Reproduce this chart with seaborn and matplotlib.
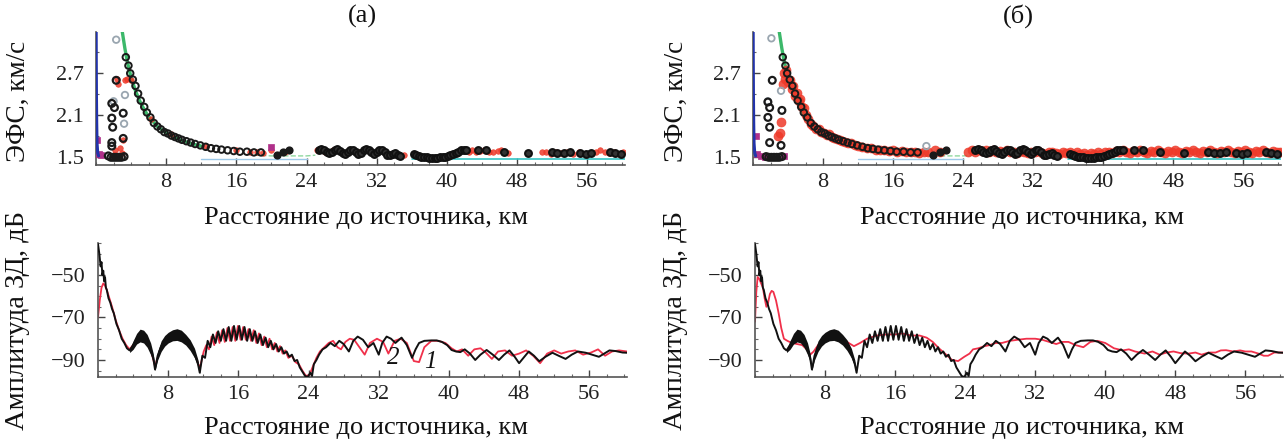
import numpy as np
import matplotlib
matplotlib.use("Agg")
import matplotlib.pyplot as plt
import seaborn as sns
from matplotlib.ticker import FixedLocator, MultipleLocator

sns.set_theme(style="white")
plt.rcParams['font.family'] = ['Liberation Serif', 'DejaVu Serif']
plt.rcParams['axes.unicode_minus'] = True

# ---------------- data: top panels (ЭФС, км/с) ----------------
blue_x = [0.02, 0.03, 0.05, 0.08, 0.12, 0.2, 0.3]
blue_v = [3.29, 2.9, 2.4, 2.0, 1.7, 1.56, 1.52]

green_x = [3.0, 3.3, 3.6, 4.0, 4.5, 5.0, 5.5, 6.0, 7.0, 8.0, 9.0, 10.0, 11.0, 12.0]
green_v = [3.29, 3.05, 2.85, 2.64, 2.45, 2.3, 2.18, 2.08, 1.94, 1.85, 1.78, 1.73, 1.69, 1.66]
green_tail_x = [18.0, 20.0, 22.0, 24.0, 25.0]
green_tail_v = [1.53, 1.52, 1.52, 1.52, 1.53]

cyan_x = [12.0, 24.0, 36.0, 60.3]
cyan_v = [1.47, 1.47, 1.475, 1.475]

curve_x = [3.4, 3.7, 3.9, 4.2, 4.5, 4.8, 5.1, 5.5, 5.8, 6.2, 6.6, 7.0, 7.4, 7.8, 8.2, 8.6, 9.0,
           9.4, 9.8, 10.3, 10.8, 11.3, 11.9, 12.5, 13.1, 13.7, 14.3, 15.0, 15.7, 16.4, 17.2, 18.0, 18.8]
curve_v = [2.93, 2.81, 2.70, 2.61, 2.52, 2.41, 2.31, 2.22, 2.14, 2.07, 1.99, 1.94, 1.9, 1.86, 1.84, 1.81, 1.79,
           1.77, 1.75, 1.73, 1.71, 1.69, 1.67, 1.65, 1.63, 1.62, 1.61, 1.6, 1.59, 1.58, 1.58, 1.57, 1.57]

bk_a_col_x = [2.3, 1.8, 2.1, 1.8, 1.9, 1.8, 1.8, 3.1, 3.1, 1.4, 1.7, 2.0, 2.3, 2.6, 2.9, 3.2]
bk_a_col_v = [2.60, 2.27, 2.21, 2.06, 1.93, 1.71, 1.66, 2.13, 1.77, 1.52, 1.5, 1.5, 1.5, 1.5, 1.5, 1.51]
bk_b_col_x = [2.2, 1.7, 1.9, 1.7, 1.9, 1.9, 3.3, 3.2, 1.5, 1.8, 2.1, 2.4, 2.7, 3.0, 3.3]
bk_b_col_v = [2.6, 2.29, 2.21, 2.07, 1.93, 1.71, 2.17, 1.67, 1.51, 1.5, 1.5, 1.5, 1.5, 1.5, 1.51]

bk_mid_x = [20.6, 21.3, 22.0]
bk_mid_v = [1.53, 1.58, 1.6]

bk_far_x = [25.4, 25.7, 26.0, 26.3, 26.6, 26.9, 27.2, 27.5, 27.8, 28.1, 28.4, 28.7, 29.0, 29.3, 29.6, 29.9,
            30.2, 30.5, 30.8, 31.1, 31.4, 31.7, 32.0, 32.3, 32.6, 32.9, 33.2, 33.5, 33.8, 34.1, 34.4, 34.7,
            36.2, 36.5, 36.8, 37.1, 37.4, 37.7, 38.0, 38.3, 38.6, 38.9, 39.2, 39.5, 39.8, 40.1, 40.4, 40.7,
            41.0, 41.3, 41.6, 41.9, 42.2,
            43.5, 44.5, 46.5, 49.2, 52.0, 52.6, 53.3, 54.0, 55.2, 55.8, 56.4, 58.6, 59.2, 59.8]
bk_far_v = [1.61, 1.62, 1.6, 1.57, 1.56, 1.58, 1.61, 1.62, 1.59, 1.56, 1.55, 1.57, 1.6, 1.61, 1.58, 1.55,
            1.56, 1.6, 1.62, 1.6, 1.57, 1.55, 1.57, 1.6, 1.6, 1.57, 1.54, 1.53, 1.55, 1.56, 1.53, 1.52,
            1.55, 1.53, 1.52, 1.51, 1.5, 1.5, 1.49, 1.49, 1.49, 1.49, 1.5, 1.5, 1.51, 1.52, 1.53, 1.55,
            1.56, 1.58, 1.6, 1.61, 1.61,
            1.6, 1.61, 1.58, 1.56, 1.57, 1.56, 1.56, 1.57, 1.56, 1.55, 1.56, 1.57, 1.56, 1.55]

red_a_x = [2.4, 2.5, 3.3, 3.1, 2.7, 2.2, 3.0, 2.0, 2.5, 3.5, 4.0, 6.3, 8.5, 12.5, 16.0, 18.3,
           17.6, 19.0, 19.9, 21.6,
           25.2, 26.1, 27.0, 28.6, 30.0, 31.2, 33.0, 34.3, 35.1, 42.5, 42.9, 43.3, 43.8, 44.2, 44.8,
           45.3, 45.8, 46.2, 47.0, 50.8, 51.3, 51.9, 52.4, 53.0, 53.7, 54.4, 55.0, 56.0, 57.0, 57.5,
           58.0, 58.5, 59.0, 59.6, 60.1]
red_a_v = [2.62, 2.55, 2.6, 1.75, 1.63, 1.6, 1.56, 1.53, 1.51, 2.62, 2.6, 2.05, 1.83, 1.66, 1.6, 1.58,
           1.58, 1.56, 1.6, 1.57,
           1.6, 1.58, 1.6, 1.58, 1.57, 1.6, 1.56, 1.55, 1.54, 1.58, 1.6, 1.57, 1.59, 1.61, 1.58,
           1.57, 1.59, 1.6, 1.56, 1.57, 1.58, 1.55, 1.57, 1.56, 1.58, 1.55, 1.57, 1.55, 1.57, 1.6,
           1.58, 1.56, 1.58, 1.55, 1.57]

red_b_x = [3.4, 3.5, 3.6, 3.8, 4.0, 4.2, 4.4, 4.6, 4.8, 5.0,
           5.2, 5.4, 5.6, 5.8, 6.0, 6.3, 6.6, 6.9, 7.2, 7.5,
           7.8, 8.1, 8.4, 8.7, 9.0, 9.3, 9.6, 9.9, 10.2, 10.5,
           10.8, 11.2, 11.6, 12.0, 12.5, 13.0, 13.5, 14.0, 14.5, 15.0,
           15.5, 16.0, 16.5, 17.0, 17.5, 18.0, 18.5, 19.0, 19.5, 20.0,
           20.8, 21.4, 24.6, 25.0, 25.4, 25.8, 26.2, 26.6, 27.0, 27.4,
           27.8, 28.2, 28.6, 29.0, 29.4, 29.8, 30.2, 30.6, 31.0, 31.4,
           31.8, 32.2, 32.6, 33.0, 33.4, 33.8, 34.2, 34.6, 35.0, 35.4,
           35.8, 36.2, 36.6, 37.0, 37.4, 37.8, 38.2, 38.6, 39.0, 39.4,
           39.8, 40.2, 40.6, 41.0, 41.4, 41.8, 42.2, 42.6, 43.0, 43.4,
           43.8, 44.2, 44.6, 45.0, 45.4, 45.8, 46.2, 46.6, 47.0, 47.4,
           47.8, 48.2, 48.6, 49.0, 49.4, 49.8, 50.2, 50.6, 51.0, 51.4,
           51.8, 52.2, 52.6, 53.0, 53.4, 53.8, 54.2, 54.6, 55.0, 55.4,
           55.8, 56.2, 56.6, 57.0, 57.4, 57.8, 58.2, 58.6, 59.0, 59.4,
           59.8, 60.2, 3.2, 3.1, 2.9]
red_b_v = [2.55, 2.7, 2.62, 2.75, 2.58, 2.6, 2.48, 2.52, 2.38, 2.42,
           2.3, 2.33, 2.22, 2.2, 2.1, 2.05, 1.98, 1.95, 1.9, 1.9,
           1.86, 1.85, 1.82, 1.83, 1.79, 1.78, 1.76, 1.75, 1.73, 1.72,
           1.7, 1.7, 1.68, 1.66, 1.65, 1.63, 1.63, 1.61, 1.61, 1.6,
           1.59, 1.6, 1.58, 1.59, 1.57, 1.58, 1.57, 1.56, 1.58, 1.57,
           1.6, 1.57, 1.57, 1.6, 1.58, 1.61, 1.59, 1.6, 1.58, 1.6,
           1.57, 1.59, 1.58, 1.6, 1.57, 1.58, 1.56, 1.59, 1.58, 1.56,
           1.58, 1.57, 1.59, 1.56, 1.55, 1.57, 1.58, 1.56, 1.55, 1.57,
           1.56, 1.58, 1.55, 1.57, 1.55, 1.56, 1.54, 1.56, 1.55, 1.57,
           1.55, 1.57, 1.58, 1.56, 1.59, 1.57, 1.6, 1.58, 1.56, 1.59,
           1.57, 1.6, 1.58, 1.56, 1.59, 1.57, 1.6, 1.58, 1.56, 1.59,
           1.57, 1.6, 1.58, 1.56, 1.59, 1.57, 1.6, 1.58, 1.56, 1.59,
           1.57, 1.6, 1.58, 1.56, 1.59, 1.57, 1.6, 1.58, 1.56, 1.59,
           1.57, 1.6, 1.58, 1.56, 1.59, 1.57, 1.6, 1.58, 1.56, 1.59,
           1.57, 1.58, 2.0, 1.85, 1.8]

pale_a_x = [2.3, 3.3, 3.2, 2.0]
pale_a_v = [3.18, 2.39, 1.98, 2.3]
pale_b_x = [2.1, 3.2, 1.7, 19.8]
pale_b_v = [3.2, 2.45, 2.3, 1.66]
mag_a_x = [0.1, 0.3, 0.6, 20.0]
mag_a_v = [1.75, 1.55, 1.53, 1.65]
mag_b_x = [0.3, 0.5, 0.9, 1.4, 3.5]
mag_b_v = [1.8, 1.55, 1.52, 1.5, 1.52]

# ---------------- data: bottom panels (Амплитуда ЗД, дБ) ----------------
bk_near_x = [0.0, 0.15, 0.3, 0.4, 0.5, 0.6, 0.7, 0.8, 0.9, 1.0, 1.2, 1.4, 1.6, 1.8, 2.1, 2.4, 2.7, 3.0, 3.3, 3.6]
bk_near_y = [-35.5, -40, -46, -44, -50, -48, -53, -51, -56, -57, -61, -63, -66, -68, -73, -76, -80, -82, -84.5, -85.5]
bk_lobe_x = [4.0, 4.4, 4.8, 5.2, 5.6, 6.0, 6.3, 6.5, 6.8, 7.2, 7.6, 8.0, 8.5, 9.0, 9.5, 10.0, 10.5, 11.0, 11.4, 11.6]
bk_lobe_y = [-83, -80, -78.5, -79, -81, -85, -89, -94.5, -88, -83.5, -81, -79.5, -78.5, -78, -79, -80.5, -83, -87, -92, -96]
band_x = [3.6, 4.0, 4.4, 4.8, 5.2, 5.6, 6.0, 6.3, 6.5, 6.8, 7.2, 7.6, 8.0, 8.5, 9.0, 9.5, 10.0, 10.5, 11.0, 11.4, 11.6]
band_hi = [-85, -81, -77.5, -75.5, -76, -78, -82, -87, -93, -86, -81, -78.5, -77, -75.8, -75.3, -76, -78, -80.5, -84.5, -90, -95]
band_lo = [-86.5, -85, -82.5, -81.5, -82, -84, -87.5, -91, -95, -90, -86, -83.5, -82, -81, -80.8, -81.5, -83, -85.5, -89, -93, -96.5]
bk_teeth_x = [11.9, 12.2, 12.5, 12.8, 13.1, 13.4, 13.7, 14.0, 14.3, 14.6, 14.9, 15.2, 15.5, 15.8, 16.1, 16.4, 16.7,
              17.0, 17.3, 17.6, 17.9, 18.2, 18.5, 18.8, 19.1, 19.4, 19.7, 20.0, 20.3, 20.6, 20.9, 21.2, 21.5]
bk_teeth_y = [-88, -89, -81, -84, -78, -82, -76.5, -81, -75.5, -81, -74.5, -81, -74, -80.5, -74, -80.5, -74.5,
              -81, -75.5, -81, -76.5, -82, -78, -83, -79.5, -84, -81, -85, -82.5, -86, -84, -87, -86]
bk_dip_x = [21.8, 22.1, 22.4, 22.7, 23.0, 23.3, 23.6, 23.9, 24.2, 24.4, 24.6, 24.9, 25.2]
bk_dip_y = [-88.5, -87.5, -90.5, -90, -93.5, -95.5, -97.5, -98, -96, -97.5, -92, -90, -87.5]
bk_tail_x = [25.6, 26.0, 26.5, 27.0, 27.5, 28.0, 28.6, 29.1, 29.6, 30.2,
             30.8, 31.4, 32.0, 32.4, 32.9, 33.4, 33.9, 34.6, 35.2, 35.8,
             36.2, 36.6, 37.2, 38.0, 38.6, 39.2, 39.8, 40.3, 40.8, 41.3,
             41.8, 42.4, 43.0, 43.6, 44.3, 45.0, 45.7, 46.3, 46.9, 47.5,
             48.0, 48.6, 49.1, 49.7, 50.3, 51.0, 51.8, 52.5, 53.3, 54.0,
             54.7, 55.6, 56.3, 57.1, 57.7, 58.3, 59.0, 59.8, 60.3]
bk_tail_y = [-85, -84, -82, -83.5, -81, -82.5, -86, -81, -79, -80.5,
             -84, -82, -87.5, -82, -79, -80, -82, -79.5, -83, -89,
             -85, -82, -81, -80.8, -80.8, -81.5, -83, -85.3, -86, -86.3,
             -85, -87, -90, -87.5, -85.3, -87.5, -90, -87.5, -85.5, -88.5,
             -91.5, -88.5, -86, -88, -90.6, -88.5, -86.6, -88, -89.5, -87.5,
             -86, -86.6, -87.5, -88.5, -87, -85.5, -85.8, -86.5, -86.6]

rd_a_x = [0.0, 0.2, 0.4, 0.6, 0.8, 1.0, 1.3, 1.6, 2.0, 2.4, 2.8, 3.2, 3.6,
          4.2, 4.8, 5.4, 6.0, 6.5, 7.0, 7.5, 8.2, 9.0, 9.8, 10.6, 11.2, 11.6,
          12.05, 12.35, 12.65, 12.95, 13.25, 13.55, 13.85, 14.15, 14.45, 14.75,
          15.05, 15.35, 15.65, 15.95, 16.25, 16.55, 16.85, 17.15, 17.45, 17.75,
          18.05, 18.35, 18.65, 18.95, 19.25, 19.55, 19.85, 20.15, 20.45, 20.75,
          21.05, 21.35, 21.7, 22.1, 22.5, 22.9, 23.3, 23.7, 24.1, 24.5, 24.9, 25.3,
          25.8, 26.3, 26.8, 27.3, 27.7, 28.2, 28.7, 29.2, 29.8, 30.4,
          31.0, 31.8, 32.5, 33.1, 33.8, 34.5, 35.2, 36.0, 36.6, 37.2,
          38.0, 38.8, 39.6, 40.3, 40.9, 41.5, 42.2, 42.9, 43.6, 44.2,
          44.9, 45.6, 46.4, 47.2, 48.0, 48.8, 49.6, 50.4, 51.2, 52.0,
          52.8, 53.6, 54.4, 55.3, 56.2, 57.0, 57.8, 58.6, 59.4, 60.3]
rd_a_y = [-70, -62, -56, -54, -55, -57, -61, -65, -71, -76, -80, -83, -85,
          -82, -79, -80, -85, -93, -86, -82, -80, -79, -80, -84, -89, -94,
          -86, -83, -85, -79, -83, -77, -82, -76, -81.5, -75,
          -81, -74.5, -81, -74, -80.5, -74.5, -80.5, -75.5, -81, -76,
          -82, -77.5, -83, -79, -84, -80, -85, -82, -86, -83.5,
          -87, -85.5, -89, -88, -91, -92, -95, -97.5, -97, -93, -89, -86,
          -84, -82, -81, -84, -85, -81.5, -80, -80.5, -84, -87.5,
          -82, -80, -81.5, -87, -81, -80, -82, -90.5, -91, -84,
          -81, -81, -82, -84.5, -86, -85, -88, -85, -84.5, -86.5,
          -89.5, -86, -85.5, -88, -87, -85.5, -88, -91.5, -87, -85.5,
          -87, -86, -85.5, -87.5, -86.5, -85, -88, -86, -85.5, -86]

rd_b_x = [0.0, 0.15, 0.3, 0.5, 0.7, 0.9, 1.1, 1.3, 1.5, 1.7,
          1.9, 2.1, 2.4, 2.7, 3.0, 3.3, 3.7, 4.2, 4.8, 5.4,
          5.9, 6.3, 6.7, 7.2, 7.8, 8.5, 9.2, 10.0, 10.7, 11.3,
          12.0, 12.8, 13.9, 15.0, 16.0, 16.8, 17.8, 18.8, 19.6, 20.3,
          21.0, 21.7, 22.5, 23.2, 23.9, 24.5, 24.9, 25.5, 26.2, 26.8,
          27.5, 28.2, 29.1, 30.0, 31.0, 32.0, 32.8, 33.6, 34.4, 35.1,
          35.8, 36.6, 37.5, 38.3, 39.1, 40.0, 41.0, 42.0, 42.7, 43.4,
          44.5, 45.4, 46.2, 47.0, 47.8, 48.6, 49.5, 50.3, 51.0, 51.8,
          52.6, 53.2, 53.8, 54.6, 55.4, 56.0, 56.7, 57.5, 58.1, 58.6,
          59.3, 60.3]
rd_b_y = [-72, -58, -51, -52, -54, -56, -61, -65, -63, -59,
          -57.5, -58, -62, -68, -75, -80, -81, -82, -82.5, -83,
          -85, -87.5, -86, -83, -80.5, -79.5, -79, -80, -82, -83.5,
          -82, -80, -78.5, -78, -78, -77.5, -78.5, -78.5, -79.5, -81.5,
          -84.5, -87, -90, -90.5, -88.5, -87, -85, -84.5, -83.5, -83,
          -82, -82, -81, -80.5, -80, -80, -80.5, -81.5, -82.5, -81.5,
          -81.5, -83, -84, -81.5, -81, -82, -84.5, -85.5, -85, -86,
          -87, -86, -87.5, -86.5, -86, -86.8, -87, -86.5, -87.5, -86.5,
          -86.5, -85.5, -85.4, -86, -85.5, -86, -86, -87, -88, -88,
          -86.5, -86.5]

curve_labels = ["2", "1"]
curve_label_x = [33.7, 37.9]
curve_label_y = [-89.0, -90.8]

x_ticks = [8, 16, 24, 32, 40, 48, 56]
v_ticks = [1.5, 2.1, 2.7]
a_ticks = [-90, -70, -50]
panel_titles = ["(а)", "(б)"]
xlabel = "Расстояние до источника, км"
ylabel_top = "ЭФС, км/с"
ylabel_bot = "Амплитуда ЗД, дБ"

# ---------------- layout ----------------
W, H = 1284, 441
fig = plt.figure(figsize=(W / 100, H / 100), dpi=100)


def rect(x0, y0, x1, y1):
    return [x0 / W, 1 - y1 / H, (x1 - x0) / W, (y1 - y0) / H]


XMAX = 60.3
TICK_FS = 16
LAB_FS = 19

ax_tl = fig.add_axes(rect(96, 32, 625, 165))
ax_bl = fig.add_axes(rect(98, 243, 627, 377))
ax_tr = fig.add_axes(rect(753, 32, 1281, 165))
ax_br = fig.add_axes(rect(755, 243, 1283, 377))

RED = "#ee3a2a"


def style_axes(ax, yticks, ylim, yminor):
    ax.set_xlim(0, XMAX)
    ax.set_ylim(*ylim)
    ax.set_facecolor("white")
    for s in ["top", "right"]:
        ax.spines[s].set_visible(False)
    for s in ["left", "bottom"]:
        ax.spines[s].set_visible(True)
        ax.spines[s].set_color("#555555")
        ax.spines[s].set_linewidth(1.2)
    ax.xaxis.set_major_locator(FixedLocator(x_ticks))
    ax.xaxis.set_minor_locator(MultipleLocator(2))
    ax.yaxis.set_major_locator(FixedLocator(yticks))
    ax.yaxis.set_minor_locator(MultipleLocator(yminor))
    ax.tick_params(axis="both", which="major", direction="in", length=5, width=1.0,
                   color="#444444", labelsize=TICK_FS, labelcolor="#222222",
                   bottom=True, left=True)
    ax.tick_params(axis="both", which="minor", direction="in", length=2.5, width=0.8,
                   color="#666666", bottom=True, left=True)
    ax.tick_params(axis="x", which="major", pad=6)
    ax.tick_params(axis="y", which="major", pad=9)
    ax.set_xlabel("")
    ax.set_ylabel("")


def line(ax, x, y, color, lw=1.3, ls="-", alpha=1.0, z=2):
    sns.lineplot(x=x, y=y, ax=ax, color=color, lw=lw, linestyle=ls, alpha=alpha,
                 sort=False, estimator=None, zorder=z, legend=False)


def dots(ax, x, y, ec, fc="none", s=24, lw=1.4, marker="o", alpha=1.0, z=3):
    sns.scatterplot(x=x, y=y, ax=ax, marker=marker, s=s, color=ec, facecolor=fc,
                    edgecolor=ec, linewidth=lw, alpha=alpha, zorder=z, legend=False)


def top_panel(ax, red_x, red_v, red_s, bk_col_x, bk_col_v, pale_x, pale_v, mag_x, mag_v):
    line(ax, cyan_x[:2], cyan_v[:2], "#9cc8e8", lw=1.0, z=1)
    line(ax, cyan_x[2:], cyan_v[2:], "#35c4c4", lw=1.2, z=1)
    line(ax, blue_x, blue_v, "#2233aa", lw=2.2, z=4)
    line(ax, green_x, green_v, "#3cb86a", lw=2.4, z=2)
    line(ax, green_tail_x, green_tail_v, "#8fd89f", lw=1.0, ls="--", z=1)
    dots(ax, red_x, red_v, RED, fc=RED, s=red_s, lw=0.5, marker="o", alpha=0.85, z=3)
    dots(ax, pale_x, pale_v, "#9aa6b0", s=22, lw=1.3, z=3)
    dots(ax, mag_x, mag_v, "#b0308a", fc="#b0308a", s=14, lw=0.5, marker="s", z=3)
    dots(ax, curve_x, curve_v, "#1a1a1a", s=22, lw=1.4, z=4)
    dots(ax, bk_col_x, bk_col_v, "#1a1a1a", s=24, lw=1.6, z=4)
    dots(ax, bk_mid_x, bk_mid_v, "#1a1a1a", fc="#1a1a1a", s=22, lw=1.2, z=4)
    dots(ax, bk_far_x, bk_far_v, "#111111", fc="#333333", s=24, lw=1.5, z=4)
    style_axes(ax, v_ticks, (1.39, 3.29), 0.3)


def bottom_panel(ax, rx, ry, with_labels):
    ax.fill_between(band_x, band_lo, band_hi, color="#111111", lw=0, zorder=3)
    line(ax, rx, ry, "#f0304a", lw=1.3, z=2)
    bx = bk_near_x + bk_lobe_x + bk_teeth_x + bk_dip_x + bk_tail_x
    by = bk_near_y + bk_lobe_y + bk_teeth_y + bk_dip_y + bk_tail_y
    line(ax, bx, by, "#111111", lw=1.4, z=3)
    if with_labels:
        for t, lx, ly in zip(curve_labels, curve_label_x, curve_label_y):
            ax.text(lx, ly, t, fontsize=18, style="italic", color="#111111",
                    ha="center", va="center", zorder=5)
    style_axes(ax, a_ticks, (-98, -35), 5)


top_panel(ax_tl, red_a_x, red_a_v, 16, bk_a_col_x, bk_a_col_v, pale_a_x, pale_a_v, mag_a_x, mag_a_v)
top_panel(ax_tr, red_b_x, red_b_v, 42, bk_b_col_x, bk_b_col_v, pale_b_x, pale_b_v, mag_b_x, mag_b_v)
bottom_panel(ax_bl, rd_a_x, rd_a_y, True)
bottom_panel(ax_br, rd_b_x, rd_b_y, False)

# titles and labels
for cx, t in zip([362, 1018], panel_titles):
    fig.text(cx / W, 1 - 16 / H, t, fontsize=LAB_FS, ha="center", va="center", color="#111111")
for cx in [366, 1022]:
    fig.text(cx / W, 1 - 218 / H, xlabel, fontsize=LAB_FS, ha="center", va="center", color="#111111")
    fig.text(cx / W, 1 - 428 / H, xlabel, fontsize=LAB_FS, ha="center", va="center", color="#111111")
for lx in [18, 676]:
    fig.text(lx / W, 1 - 101 / H, ylabel_top, fontsize=19.5, rotation=90,
             ha="center", va="center", color="#111111")
    fig.text(lx / W, 1 - 320 / H, ylabel_bot, fontsize=20.5, rotation=90,
             ha="center", va="center", color="#111111")

fig.savefig("out.png", dpi=100, facecolor="white")
